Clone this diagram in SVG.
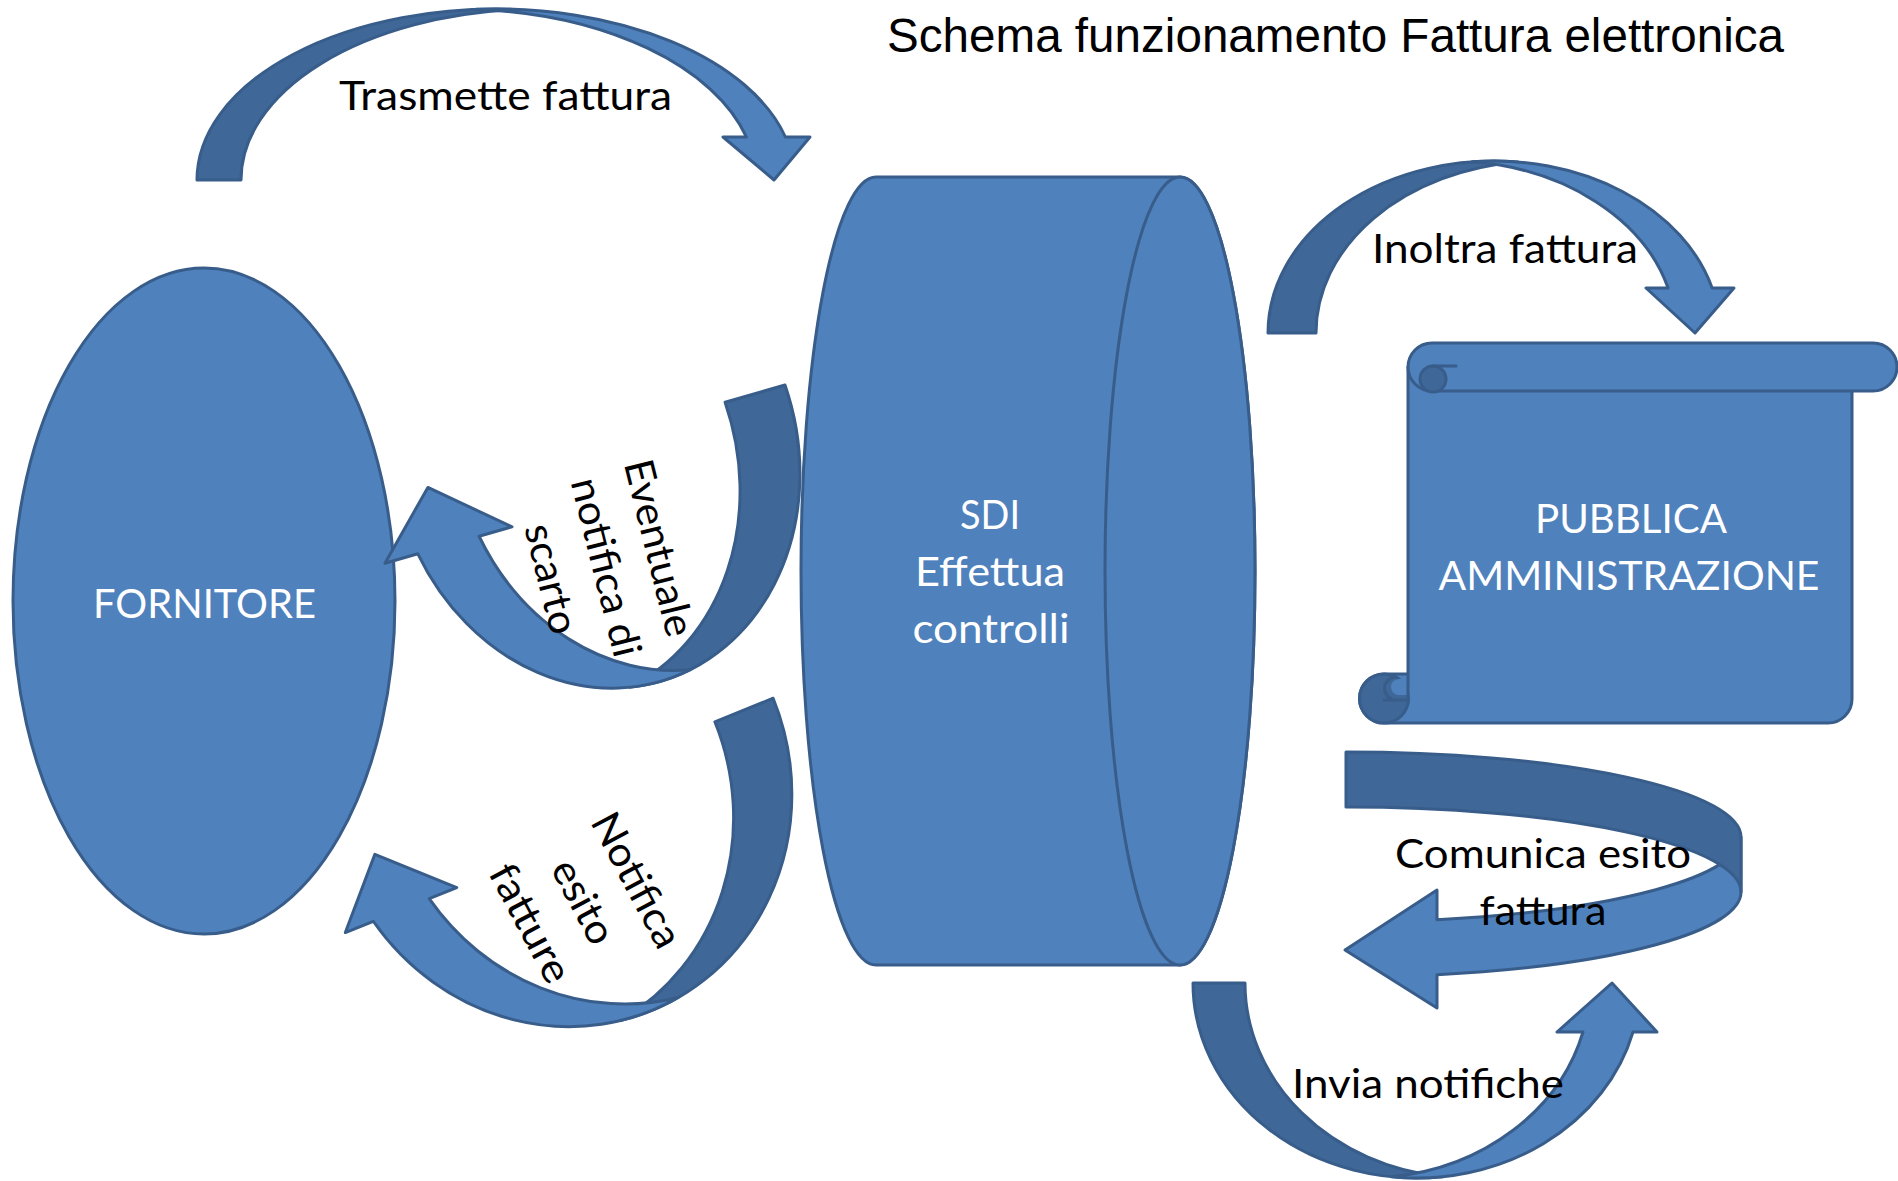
<svg xmlns="http://www.w3.org/2000/svg" width="1898" height="1181" viewBox="0 0 1898 1181">
<style>
.n{fill:#4F81BD;stroke:#385D8A;stroke-width:3;stroke-linejoin:round}
.d{fill:#3F6797;stroke:#385D8A;stroke-width:3;stroke-linejoin:round}
.ln{fill:none;stroke:#385D8A;stroke-width:3;stroke-linecap:round}
.t{font-family:Lato,"Open Sans",sans-serif;font-size:40.5px}
.w{fill:#FFFFFF;text-anchor:middle}
.k{fill:#000000}
.m{text-anchor:middle}
.title{font-family:"Liberation Sans",Arial,sans-serif;font-size:47.5px;fill:#000}
</style>
<rect width="1898" height="1181" fill="#FFFFFF"/>
<text class="title" x="887" y="52" textLength="897" lengthAdjust="spacingAndGlyphs">Schema funzionamento Fattura elettronica</text>

<g id="fornitore">
<ellipse class="n" cx="204" cy="601" rx="191" ry="333"/>
<text class="t w" x="204.5" y="618" textLength="223" lengthAdjust="spacingAndGlyphs">FORNITORE</text>
</g>

<g id="sdi">
<path class="n" d="M 876,177 L 1180,177 A 75 394 0 0 1 1180,965 L 876,965 A 75 394 0 0 1 876,177 Z"/>
<ellipse class="n" cx="1180" cy="571" rx="75" ry="394"/>
<text class="t w" x="990" y="529" textLength="60" lengthAdjust="spacingAndGlyphs">SDI</text>
<text class="t w" x="990" y="586" textLength="150" lengthAdjust="spacingAndGlyphs">Effettua</text>
<text class="t w" x="991" y="643" textLength="157" lengthAdjust="spacingAndGlyphs">controlli</text>
</g>

<g id="pubblica-amministrazione">
<path class="n" d="M 1408,367 L 1852,367 L 1852,699 A 24 24 0 0 1 1828,723 L 1384,723 A 24.5 24.5 0 0 1 1384,674 L 1408,674 Z"/>
<circle class="d" cx="1384" cy="698.5" r="24.5"/>
<path d="M 1407,679 L 1399,679 A 8 8 0 0 0 1399,695 L 1407,695 Z" fill="#4F81BD"/>
<path class="ln" d="M 1396,677 A 11.5 11.5 0 0 0 1396,700 M 1384,700 L 1408,700 M 1408,674 L 1408,702"/>
<path class="n" d="M 1432,343 L 1873,343 A 24 24 0 0 1 1873,391 L 1432,391 A 24 24 0 0 1 1432,343 Z"/>
<circle class="d" cx="1433" cy="379" r="13"/>
<path class="ln" d="M 1433,366 L 1456,366"/>
<text class="t w" x="1631" y="533" textLength="192" lengthAdjust="spacingAndGlyphs">PUBBLICA</text>
<text class="t w" x="1629" y="590" textLength="381" lengthAdjust="spacingAndGlyphs">AMMINISTRAZIONE</text>
</g>

<g id="connectors">
<g id="arrow-trasmette">
<path class="d" d="M 197,180 A 299 171 0 0 1 518,9.46 A 299 171 0 0 0 241,180 Z"/>
<path class="n" d="M 476.5,9.36 A 299 171 0 0 1 785.4,137 L 810,137 L 774,180 L 723,137 L 746.4,137 A 299 171 0 0 0 476.5,9.36 Z"/>
</g>
<g id="arrow-inoltra">
<path class="d" d="M 1268,333 A 226 172 0 0 1 1518,161.97 A 226 172 0 0 0 1316,333 Z"/>
<path class="n" d="M 1472,161.82 A 226 172 0 0 1 1712.1,288 L 1734,288 L 1695,333 L 1646,288 L 1668.1,288 A 226 172 0 0 0 1472,161.82 Z"/>
</g>
<g id="arrow-scarto" transform="rotate(-16 600 500)">
<path class="d" d="M 809.5,440.5 A 201.9 236 0 0 1 576.85,688.17 A 201.9 236 0 0 0 747.2,440.5 Z"/>
<path class="n" d="M 639.85,688.05 A 201.9 236 0 0 1 410.06,501.5 L 375.9,501.5 L 438,440.5 L 508,501.5 L 473.76,501.5 A 201.9 236 0 0 0 639.85,688.05 Z"/>
</g>
<g id="arrow-esito" transform="rotate(-22 560 800)">
<path class="d" d="M 795.7,785.5 A 230.3 244 0 0 1 534,1027.22 A 230.3 244 0 0 0 732.9,785.5 Z"/>
<path class="n" d="M 595.55,1027.4 A 230.3 244 0 0 1 341.47,842.5 L 311.3,842.5 L 368,781 L 431.5,842.5 L 401.77,842.5 A 230.3 244 0 0 0 595.55,1027.4 Z"/>
</g>
<g id="arrow-comunica">
<path class="n" d="M 1437,919.7 A 395 85 0 0 0 1741,837 L 1741,892 A 395 85 0 0 1 1437,974.7 L 1437,1008 L 1345,950 L 1437,890 Z"/>
<path class="d" d="M 1346,752 A 395 85 0 0 1 1741,837 L 1741,892 A 395 85 0 0 0 1346,807 Z"/>
</g>
<g id="arrow-invia">
<path class="d" d="M 1193,983 A 223.6 195 0 0 0 1442.6,1176.68 A 223.6 195 0 0 1 1245,983 Z"/>
<path class="n" d="M 1391.6,1176.78 A 223.6 195 0 0 0 1633,1032 L 1657,1032 L 1612,983 L 1557,1032 L 1583,1032 A 223.6 195 0 0 1 1391.6,1176.78 Z"/>
</g>
</g>

<g id="labels">
<text class="t k" x="339" y="110" textLength="333" lengthAdjust="spacingAndGlyphs">Trasmette fattura</text>
<text class="t k" x="1372" y="263" textLength="266" lengthAdjust="spacingAndGlyphs">Inoltra fattura</text>
<text class="t k m" x="1543" y="868" textLength="296" lengthAdjust="spacingAndGlyphs">Comunica esito</text>
<text class="t k m" x="1543" y="925" textLength="127" lengthAdjust="spacingAndGlyphs">fattura</text>
<text class="t k" x="1292" y="1098" textLength="272" lengthAdjust="spacingAndGlyphs">Invia notifiche</text>
<g transform="rotate(76)">
<text class="t k m" x="691" y="-493" textLength="181" lengthAdjust="spacingAndGlyphs">Eventuale</text>
<text class="t k m" x="697" y="-437" textLength="183" lengthAdjust="spacingAndGlyphs">notifica di</text>
<text class="t k m" x="695" y="-381" textLength="112" lengthAdjust="spacingAndGlyphs">scarto</text>
</g>
<g transform="rotate(62)">
<text class="t k m" x="1076" y="-135" textLength="147" lengthAdjust="spacingAndGlyphs">Notifica</text>
<text class="t k m" x="1070" y="-78" textLength="90" lengthAdjust="spacingAndGlyphs">esito</text>
<text class="t k m" x="1064" y="-21" textLength="129" lengthAdjust="spacingAndGlyphs">fatture</text>
</g>
</g>
</svg>
